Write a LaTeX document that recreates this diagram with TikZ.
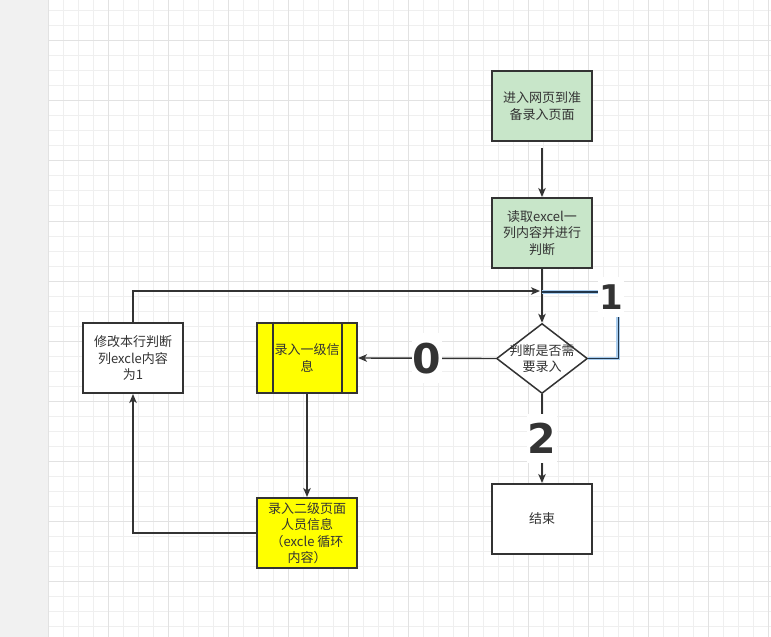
\documentclass[tikz,border=0pt]{standalone}
\usepackage{fontspec}
\setmainfont{Noto Sans CJK SC}
\newfontfamily\lblfont{DejaVu Sans}
\usetikzlibrary{shapes.geometric,arrows.meta}
\definecolor{gfill}{HTML}{C8E6C9}
\definecolor{yel}{HTML}{FFFF00}
\definecolor{bordc}{HTML}{333333}
\definecolor{txtc}{HTML}{333333}
\definecolor{leftc}{HTML}{F1F1F1}
\definecolor{gminor}{HTML}{EFEFEF}
\definecolor{gmajor}{HTML}{E2E2E2}
\definecolor{selc}{HTML}{22364A}
\definecolor{glowc}{HTML}{A9CDEF}
\newcommand{\txtfont}{\fontsize{13bp}{16.5bp}\selectfont}
\begin{document}
\begin{tikzpicture}[x=1bp,y=-1bp,
  box/.style={draw=bordc, line width=2bp, minimum width=100bp, minimum height=70bp,
    inner sep=0pt, font=\txtfont, text=txtc, align=center},
  txt/.style={font=\txtfont, text=txtc, align=center, inner sep=0pt},
  edge/.style={draw=bordc, line width=1.4bp, -{Stealth[length=9bp,width=7.5bp,inset=2.5bp]}},
  sel/.style={draw=selc, line width=1.4bp, preaction={draw=glowc, line width=3.6bp}},
  lbl/.style={fill=white, text=bordc, font=\lblfont\bfseries\fontsize{41bp}{41bp}\selectfont,
    inner xsep=1bp, inner ysep=9.5bp},
  lblsmall/.style={fill=white, text=bordc, font=\lblfont\bfseries\fontsize{34bp}{34bp}\selectfont,
    inner xsep=1.5bp, inner ysep=8bp}]
\useasboundingbox (0,0) rectangle (771,637);
\fill[white] (0,0) rectangle (771,637);
\fill[leftc] (0,0) rectangle (48,637);
% grid
\foreach \x in {48,63,...,770} \draw[gminor, line width=1bp] (\x,0) -- (\x,637);
\foreach \y in {11,26,...,636} \draw[gminor, line width=1bp] (48,\y) -- (771,\y);
\foreach \x in {48,108,...,770} \draw[gmajor, line width=1bp] (\x,0) -- (\x,637);
\foreach \y in {41,101,...,636} \draw[gmajor, line width=1bp] (48,\y) -- (771,\y);
% nodes
\node[box, fill=gfill] (n1) at (542,106) {进入网页到准\\备录入页面};
\node[box, fill=gfill] (n2) at (542,233) {读取excel一\\列内容并进行\\判断};
\node[diamond, draw=bordc, line width=1.5bp, fill=white, minimum width=91bp,
  minimum height=70bp, inner sep=0pt] (d) at (542,358.5) {};
\node[txt] (dt) at (d.center) {判断是否需\\要录入};
\node[box, fill=white] (m) at (133,358) {修改本行判断\\列excle内容\\为1};
\node[box, fill=yel] (y1) at (307,358) {录入一级信\\息};
\draw[bordc, line width=2bp] ([xshift=16.5bp]y1.north west) -- ([xshift=16.5bp]y1.south west);
\draw[bordc, line width=2bp] ([xshift=-16.5bp]y1.north east) -- ([xshift=-16.5bp]y1.south east);
\node[box, fill=yel] (y2) at (307,533) {录入二级页面\\人员信息\\（excle 循环\\内容）};
\node[box, fill=white] (e) at (542,519) {结束};
% connectors
\coordinate (j) at (540,291);
\coordinate (k) at (542,292);
\draw[edge] ([yshift=-6bp]n1.south) -- (n2.north);
\draw[edge] (n2.south) -- (d.north);
\draw[edge] (m.north) |- (j);
\draw[sel] (d.east) -- ++(30,0) |- (k);
\node[lblsmall] (l1) at (611,297) {1};
\draw[edge] (d.west) -- (y1.east) node[lbl, pos=0.5] (l0) {0};
\draw[edge] (y1.south) -- (y2.north);
\draw[edge] (y2.west) -| (m.south);
\draw[edge] (d.south) -- (e.north) node[lbl, pos=0.5] (l2) {2};
\end{tikzpicture}
\end{document}
